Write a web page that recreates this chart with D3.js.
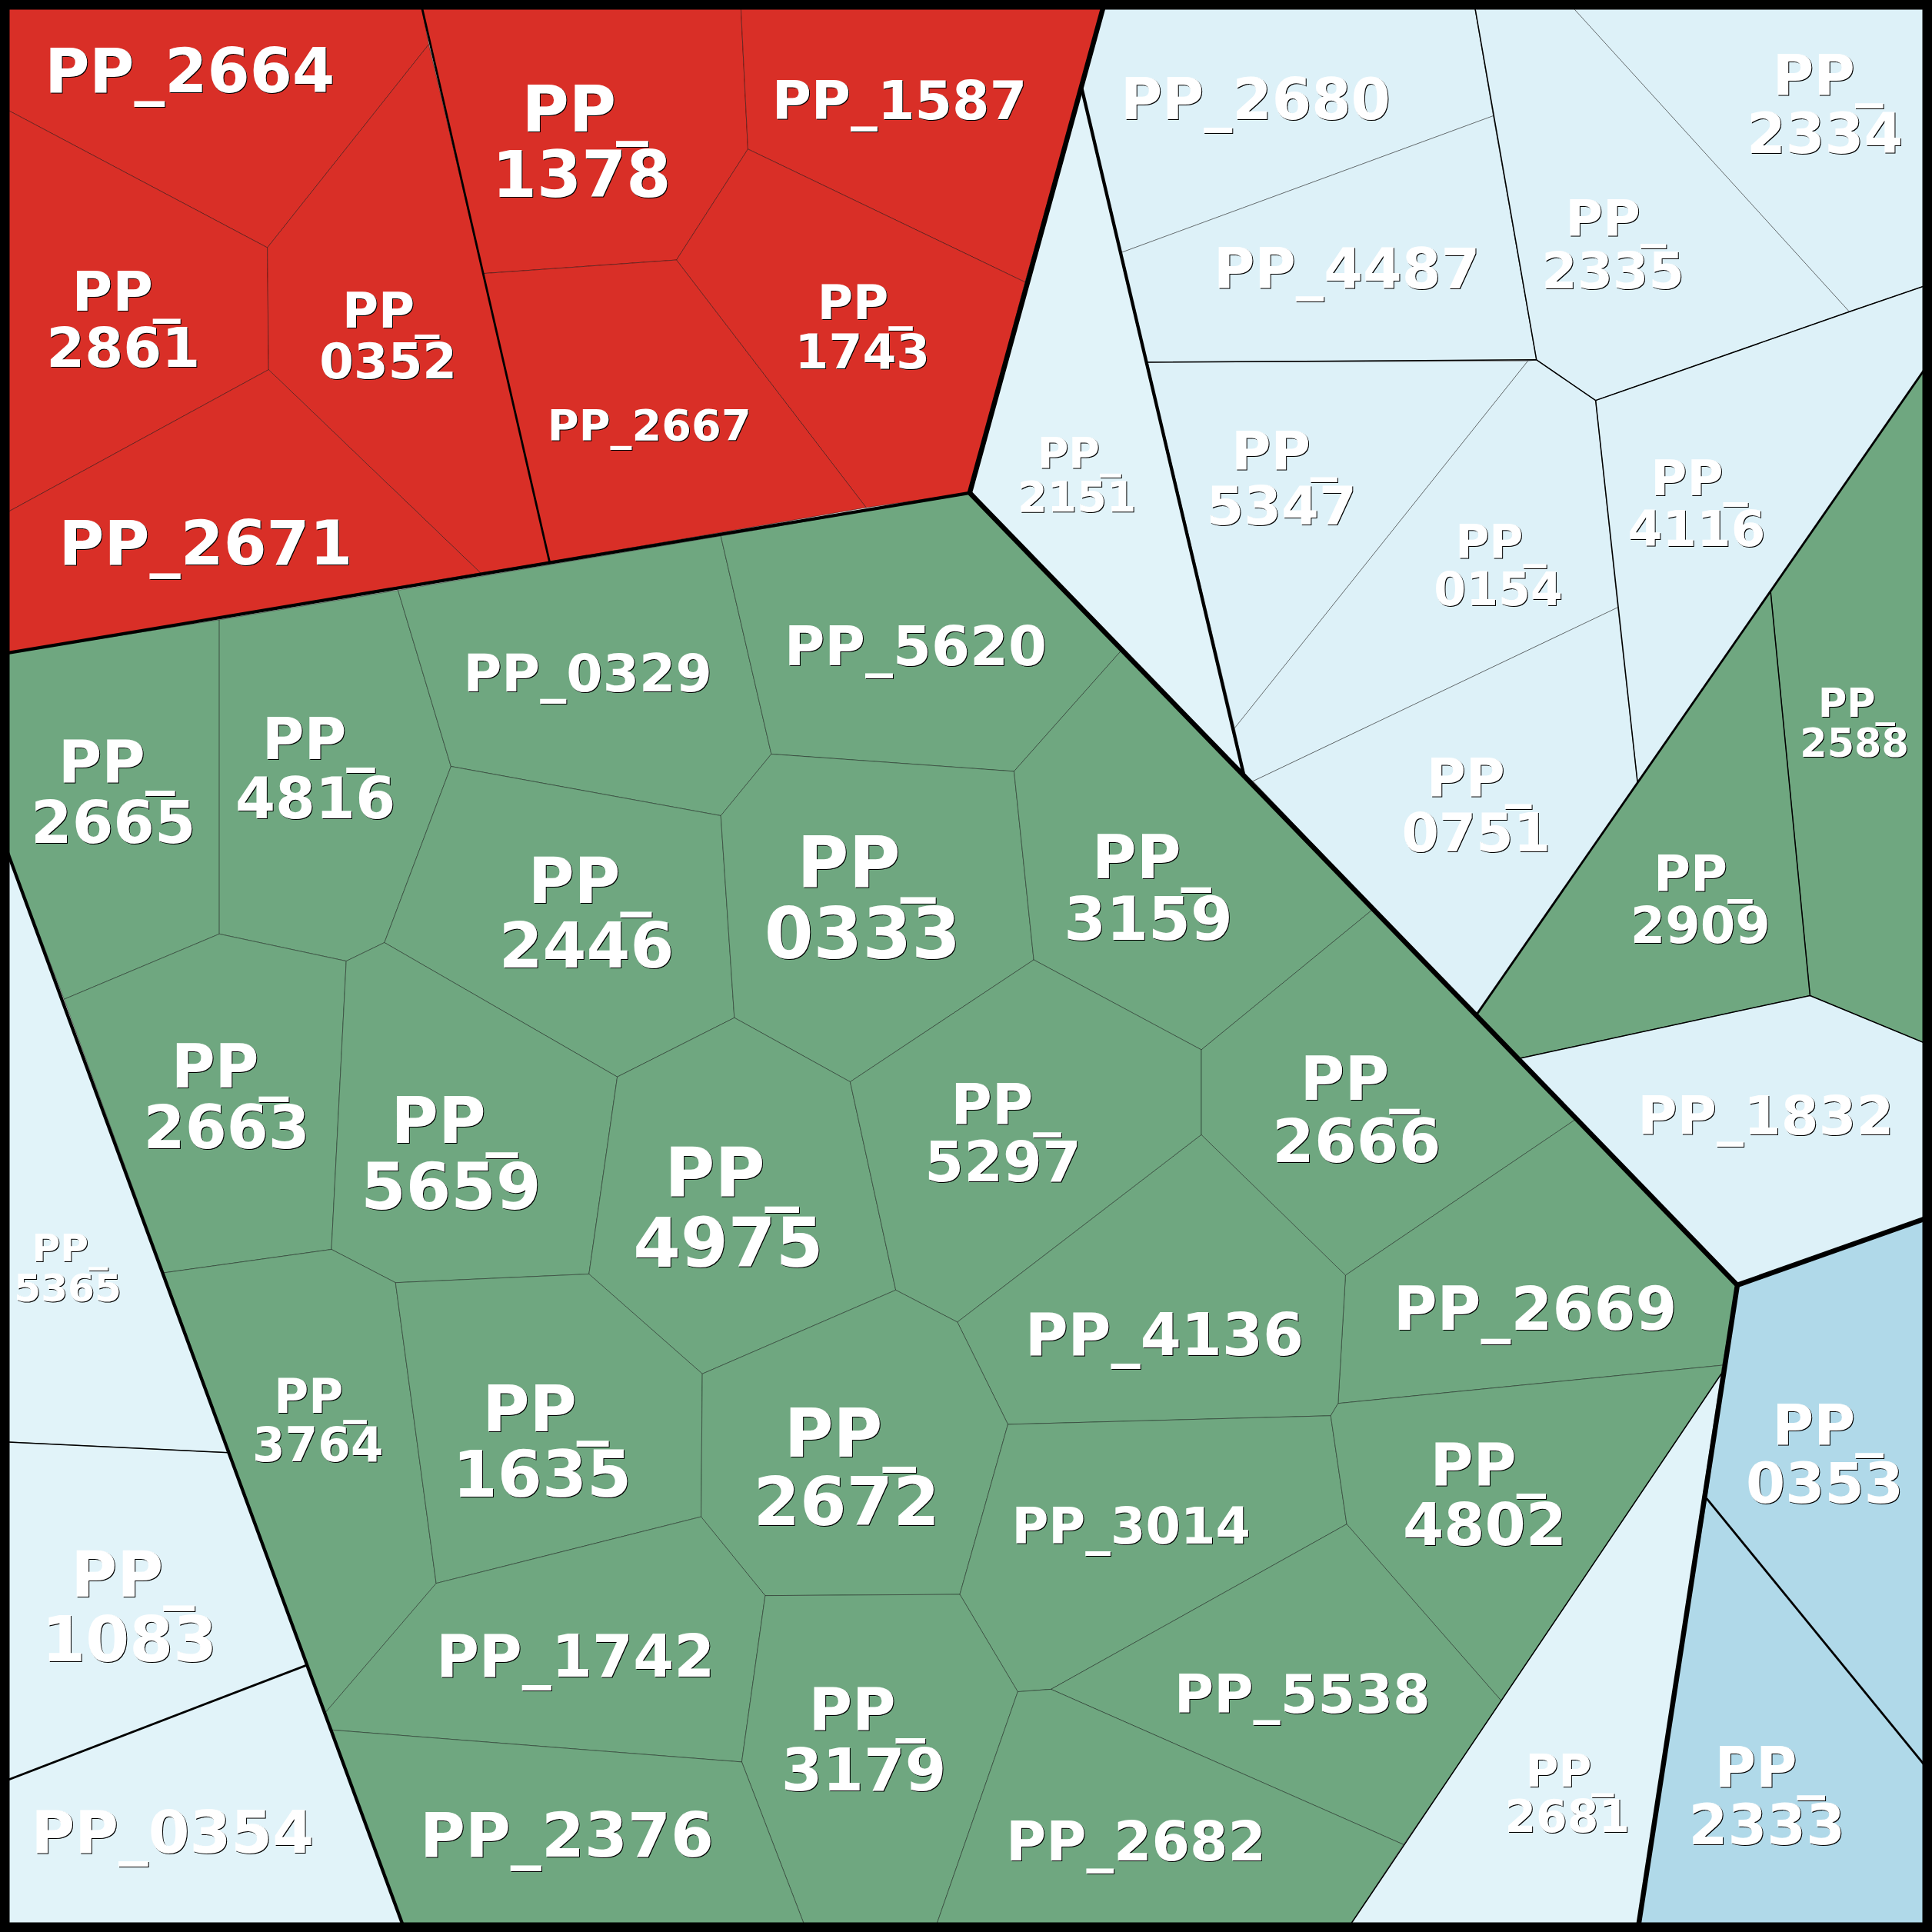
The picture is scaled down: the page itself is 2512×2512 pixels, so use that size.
<!DOCTYPE html>
<html>
<head>
<meta charset="utf-8">
<script src="https://cdn.jsdelivr.net/npm/d3@7"></script>
<style>
  html, body { margin: 0; padding: 0; background: #fff; }
  svg { display: block; }
  text { font-family: "DejaVu Sans"; font-weight: bold; fill: #fff; text-anchor: middle; filter: drop-shadow(1.2px 1.2px 0 #000); }
</style>
</head>
<body>
<svg id="chart" width="2512" height="2512"></svg>
<script>
// cell names, one list per top level group
const redCells = ["PP_2664", "PP_2861", "PP_0352", "PP_2671", "PP_1378", "PP_1587", "PP_1743", "PP_2667"];
const greenCells = ["PP_2665", "PP_4816", "PP_0329", "PP_5620", "PP_2446", "PP_0333", "PP_3159", "PP_2663", "PP_5659",
  "PP_4975", "PP_5297", "PP_2666", "PP_2669", "PP_4136", "PP_3764", "PP_1635", "PP_2672", "PP_3014", "PP_4802",
  "PP_1742", "PP_3179", "PP_2376", "PP_5538", "PP_2682", "PP_2588", "PP_2909"];
const paleCells = ["PP_5365", "PP_1083", "PP_0354", "PP_2681", "PP_2151"];
const skyCells = ["PP_2680", "PP_4487", "PP_2335", "PP_2334", "PP_4116", "PP_5347", "PP_0154", "PP_0751", "PP_1832"];
const blueCells = ["PP_0353", "PP_2333"];

// cell outlines, in a 0-1568 layout space
const outlines = {
  PP_2664: [[0, 0], [341, 0], [348, 36], [217, 201], [0, 86]],
  PP_2861: [[0, 86], [217, 201], [218, 300], [0, 419]],
  PP_0352: [[217, 201], [348, 36], [392, 222], [446, 456], [390, 465], [218, 300]],
  PP_2671: [[0, 419], [218, 300], [390, 465], [0, 531]],
  PP_1378: [[341, 0], [601, 0], [607, 121], [549, 211], [392, 222]],
  PP_1587: [[601, 0], [897, 0], [832, 229], [607, 121]],
  PP_1743: [[607, 121], [832, 229], [787, 400], [703, 412], [549, 211]],
  PP_2667: [[392, 222], [549, 211], [703, 412], [446, 456]],
  PP_2665: [[0, 531], [178, 503], [178, 758], [52, 811], [0, 675]],
  PP_4816: [[178, 503], [323, 479], [366, 622], [312, 765], [281, 780], [178, 758]],
  PP_0329: [[323, 479], [585, 435], [626, 612], [585, 662], [366, 622]],
  PP_5620: [[585, 435], [787, 400], [910, 528], [823, 626], [626, 612]],
  PP_2446: [[366, 622], [585, 662], [596, 826], [501, 874], [312, 765]],
  PP_0333: [[626, 612], [823, 626], [839, 779], [690, 878], [596, 826], [585, 662]],
  PP_3159: [[910, 528], [1113, 739], [975, 852], [839, 779], [823, 626]],
  PP_2663: [[52, 811], [178, 758], [281, 780], [269, 1014], [133, 1033]],
  PP_5659: [[281, 780], [312, 765], [501, 874], [478, 1034], [321, 1041], [269, 1014]],
  PP_4975: [[501, 874], [596, 826], [690, 878], [727, 1047], [570, 1115], [478, 1034]],
  PP_5297: [[690, 878], [839, 779], [975, 852], [975, 921], [777, 1073], [727, 1047]],
  PP_2666: [[1113, 739], [1278, 909], [1092, 1035], [975, 921], [975, 852]],
  PP_2669: [[1278, 909], [1410, 1043], [1398, 1108], [1086, 1139], [1092, 1035]],
  PP_4136: [[777, 1073], [975, 921], [1092, 1035], [1086, 1139], [1080, 1149], [818, 1156]],
  PP_3764: [[133, 1033], [269, 1014], [321, 1041], [354, 1285], [264, 1390]],
  PP_1635: [[321, 1041], [478, 1034], [570, 1115], [569, 1231], [354, 1285]],
  PP_2672: [[570, 1115], [727, 1047], [777, 1073], [818, 1156], [779, 1294], [621, 1295], [569, 1231]],
  PP_3014: [[818, 1156], [1080, 1149], [1093, 1237], [853, 1371], [826, 1373], [779, 1294]],
  PP_4802: [[1086, 1139], [1398, 1108], [1397, 1115], [1219, 1381], [1093, 1237], [1080, 1149]],
  PP_1742: [[354, 1285], [569, 1231], [621, 1295], [602, 1430], [269, 1404], [264, 1390]],
  PP_3179: [[621, 1295], [779, 1294], [826, 1373], [758, 1568], [655, 1568], [602, 1430]],
  PP_2376: [[269, 1404], [602, 1430], [655, 1568], [329, 1568]],
  PP_5538: [[853, 1371], [1093, 1237], [1219, 1381], [1139, 1497]],
  PP_2682: [[826, 1373], [853, 1371], [1139, 1497], [1092, 1568], [758, 1568]],
  PP_2588: [[1437, 480], [1568, 291], [1568, 849], [1469, 808]],
  PP_2909: [[1437, 480], [1469, 808], [1233, 859], [1198, 824]],
  PP_5365: [[0, 675], [186, 1179], [0, 1170]],
  PP_1083: [[0, 1170], [186, 1179], [250, 1351], [0, 1447]],
  PP_0354: [[0, 1447], [250, 1351], [329, 1568], [0, 1568]],
  PP_2681: [[1397, 1115], [1329, 1568], [1092, 1568]],
  PP_2151: [[878, 72], [910, 205], [931, 294], [1010, 631], [787, 400]],
  PP_2680: [[897, 0], [1196, 0], [1212, 94], [910, 205], [878, 72]],
  PP_4487: [[910, 205], [1212, 94], [1247, 292], [931, 294]],
  PP_2335: [[1196, 0], [1271, 0], [1501, 253], [1295, 325], [1247, 292], [1212, 94]],
  PP_2334: [[1271, 0], [1568, 0], [1568, 230], [1501, 253]],
  PP_4116: [[1295, 325], [1501, 253], [1568, 230], [1568, 291], [1437, 480], [1329, 635], [1313, 493]],
  PP_5347: [[931, 294], [1240, 293], [1002, 591]],
  PP_0154: [[1240, 293], [1247, 292], [1295, 325], [1313, 493], [1017, 634], [1010, 631], [1002, 591]],
  PP_0751: [[1017, 634], [1313, 493], [1329, 635], [1198, 824]],
  PP_1832: [[1198, 824], [1233, 859], [1469, 808], [1568, 849], [1568, 987], [1410, 1043]],
  PP_0353: [[1410, 1043], [1568, 987], [1568, 1440], [1385, 1216]],
  PP_2333: [[1385, 1216], [1568, 1440], [1568, 1568], [1329, 1568]]
};

// divisions between the levels of the hierarchy
const heavyBorders = [
  [[897, 0], [787, 400], [1198, 824], [1410, 1043], [1329, 1568]],
  [[1410, 1043], [1568, 987]]
];
const middleBorders = [
  [[0, 531], [787, 400]],
  [[0, 675], [329, 1568]],
  [[878, 72], [1010, 631]]
];
const lightBorders = [
  [[341, 0], [446, 456]],
  [[1385, 1216], [1568, 1440]],
  [[0, 1447], [250, 1351]],
  [[1198, 824], [1568, 291]]
];
const hairBorders = [
  [[0, 1170], [186, 1179]],
  [[1397, 1115], [1092, 1568]],
  [[1233, 859], [1469, 808], [1568, 849]],
  [[1437, 480], [1469, 808]],
  [[931, 294], [1247, 292], [1295, 325], [1329, 635]],
  [[1295, 325], [1501, 253], [1568, 230]],
  [[1196, 0], [1247, 292]]
];

// label anchor: centre x, baseline of the last line, width of the widest line
const labelX = { PP_2664: 154, PP_1378: 472, PP_1587: 730, PP_2861: 100, PP_0352: 315, PP_1743: 700, PP_2667: 527, PP_2671: 167,
  PP_2680: 1019, PP_2334: 1481, PP_4487: 1093, PP_2335: 1309, PP_2151: 874, PP_5347: 1040, PP_4116: 1377, PP_0154: 1216,
  PP_0751: 1198, PP_1832: 1433, PP_5365: 55, PP_1083: 105, PP_0354: 140, PP_2681: 1272, PP_0353: 1481, PP_2333: 1434,
  PP_5620: 743, PP_0329: 477, PP_2665: 92, PP_4816: 256, PP_2446: 476, PP_0333: 700, PP_3159: 932, PP_2588: 1505, PP_2909: 1380,
  PP_2663: 184, PP_5659: 366, PP_4975: 591, PP_5297: 814, PP_2666: 1101, PP_2669: 1246, PP_4136: 945, PP_3764: 258, PP_1635: 440,
  PP_2672: 687, PP_3014: 918, PP_4802: 1205, PP_1742: 467, PP_3179: 701, PP_5538: 1057, PP_2682: 922, PP_2376: 460 };
const labelY = { PP_2664: 75, PP_1378: 160, PP_1587: 97, PP_2861: 298, PP_0352: 307, PP_1743: 299, PP_2667: 357, PP_2671: 458,
  PP_2680: 97, PP_2334: 124, PP_4487: 234, PP_2335: 234, PP_2151: 415, PP_5347: 426, PP_4116: 443, PP_0154: 491,
  PP_0751: 691, PP_1832: 921, PP_5365: 1056, PP_1083: 1348, PP_0354: 1504, PP_2681: 1487, PP_0353: 1220, PP_2333: 1497,
  PP_5620: 540, PP_0329: 561, PP_2665: 684, PP_4816: 664, PP_2446: 785, PP_0333: 778, PP_3159: 763, PP_2588: 614, PP_2909: 765,
  PP_2663: 932, PP_5659: 981, PP_4975: 1028, PP_5297: 959, PP_2666: 943, PP_2669: 1079, PP_4136: 1100, PP_3764: 1186, PP_1635: 1215,
  PP_2672: 1238, PP_3014: 1253, PP_4802: 1254, PP_1742: 1361, PP_3179: 1453, PP_5538: 1390, PP_2682: 1510, PP_2376: 1507 };
const labelW = { PP_2664: 232, PP_1378: 143, PP_1587: 204, PP_2861: 123, PP_0352: 110, PP_1743: 108, PP_2667: 163, PP_2671: 235,
  PP_2680: 216, PP_2334: 125, PP_4487: 213, PP_2335: 114, PP_2151: 95, PP_5347: 120, PP_4116: 110, PP_0154: 103,
  PP_0751: 119, PP_1832: 205, PP_5365: 86, PP_1083: 140, PP_0354: 226, PP_2681: 100, PP_0353: 126, PP_2333: 125,
  PP_5620: 210, PP_0329: 199, PP_2665: 132, PP_4816: 128, PP_2446: 140, PP_0333: 157, PP_3159: 135, PP_2588: 87, PP_2909: 112,
  PP_2663: 133, PP_5659: 144, PP_4975: 152, PP_5297: 125, PP_2666: 135, PP_2669: 227, PP_4136: 223, PP_3764: 105, PP_1635: 143,
  PP_2672: 149, PP_3014: 191, PP_4802: 131, PP_1742: 223, PP_3179: 132, PP_5538: 205, PP_2682: 208, PP_2376: 235 };
const oneLine = ["PP_2664", "PP_1587", "PP_2667", "PP_2671", "PP_2680", "PP_4487", "PP_1832", "PP_0354", "PP_5620", "PP_0329",
  "PP_2669", "PP_4136", "PP_3014", "PP_1742", "PP_5538", "PP_2682", "PP_2376"];

const groups = [
  { cells: redCells, color: "#d92f27" },
  { cells: greenCells, color: "#6fa780" },
  { cells: paleCells, color: "#e1f3f9" },
  { cells: skyCells, color: "#ddf1f8" },
  { cells: blueCells, color: "#b0d9e9" }
];

const size = 2512;
const x = d3.scaleLinear().domain([0, 1568]).range([0, size]);
const y = d3.scaleLinear().domain([0, 1568]).range([0, size]);
const line = d3.line().x(d => x(d[0])).y(d => y(d[1]));

const svg = d3.select("#chart");

groups.forEach(g => {
  svg.append("g").selectAll("path")
    .data(g.cells)
    .join("path")
    .attr("d", d => line(outlines[d]) + "Z")
    .attr("fill", g.color)
    .attr("stroke", "#000")
    .attr("stroke-opacity", 0.42)
    .attr("stroke-width", 1);
});

function drawBorders(list, width) {
  svg.append("g").selectAll("path")
    .data(list)
    .join("path")
    .attr("d", line)
    .attr("fill", "none")
    .attr("stroke", "#000")
    .attr("stroke-linejoin", "round")
    .attr("stroke-width", width);
}
drawBorders(hairBorders, 1.5);
drawBorders(lightBorders, 2.8);
drawBorders(middleBorders, 4.3);
drawBorders(heavyBorders, 6.5);

svg.append("rect")
  .attr("width", size).attr("height", size)
  .attr("fill", "none").attr("stroke", "#000").attr("stroke-width", 25);

const labels = svg.append("g");
groups.forEach(g => g.cells.forEach(name => {
  const single = oneLine.includes(name);
  const head = single ? name : "PP_";
  const digits = name.slice(3);
  // DejaVu Sans Bold: whole label about 4.68em, four digits about 2.74em, ink only
  const fontSize = x(labelW[name]) / (single ? 4.68 : 2.74);
  const t = labels.append("text")
    .attr("font-size", fontSize)
    .attr("x", x(labelX[name]));
  if (single) {
    t.attr("y", y(labelY[name])).text(head);
  } else {
    // first line sits a little right of the digits
    t.append("tspan").attr("x", x(labelX[name]) + fontSize * 0.055).attr("y", y(labelY[name]) - fontSize * 1.02).text(head);
    t.append("tspan").attr("x", x(labelX[name])).attr("y", y(labelY[name])).text(digits);
  }
}));
</script>
</body>
</html>
